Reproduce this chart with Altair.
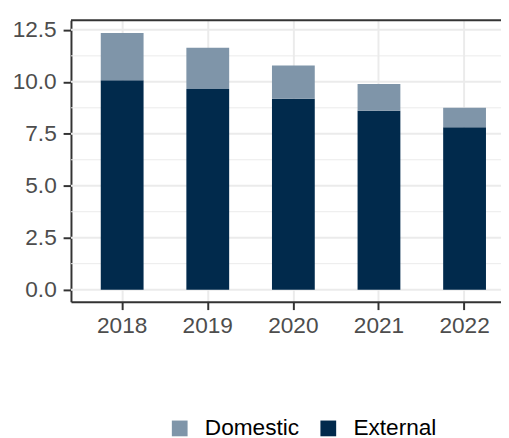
import altair as alt
import pandas as pd

years = ["2018", "2019", "2020", "2021", "2022"]
external = [10.08, 9.65, 9.18, 8.61, 7.81]
domestic = [2.27, 1.99, 1.61, 1.28, 0.94]
series = ["Domestic", "External"]
colors = ["#7F95A9", "#012A4C"]
y_ticks = [0, 2.5, 5, 7.5, 10, 12.5]
y_minor = [1.25, 3.75, 6.25, 8.75, 11.25]

rows = []
for i, yr in enumerate(years):
    rows.append({"year": yr, "series": "External", "value": external[i], "ord": 0})
    rows.append({"year": yr, "series": "Domestic", "value": domestic[i], "ord": 1})
df = pd.DataFrame(rows)

FONT = "Liberation Sans"
yscale = alt.Scale(domain=[-0.58, 12.96], nice=False, zero=False)
xscale = alt.Scale(paddingInner=0.5, paddingOuter=0.348)
yaxis = alt.Axis(title=None, values=y_ticks, format=".1f", grid=False,
                 tickSize=8, tickWidth=2, tickColor="#333333",
                 domainColor="#333333", domainWidth=2,
                 labelFont=FONT, labelFontSize=23, labelColor="#4D4D4D",
                 labelPadding=7)

major = alt.Chart(pd.DataFrame({"v": y_ticks})).mark_rule(
    color="#EBEBEB", strokeWidth=2
).encode(
    y=alt.Y("v:Q", scale=yscale, axis=yaxis),
)
minor = alt.Chart(pd.DataFrame({"v": y_minor})).mark_rule(
    color="#EBEBEB", strokeWidth=1
).encode(
    y=alt.Y("v:Q", scale=yscale, axis=yaxis),
)

bars = alt.Chart(df).mark_bar().encode(
    x=alt.X("year:N", scale=xscale, sort=years,
            axis=alt.Axis(title=None, labelAngle=0, grid=True, gridColor="#EBEBEB",
                          gridWidth=2, bandPosition=0.5, tickSize=8, tickWidth=2,
                          tickColor="#333333", domainColor="#333333", domainWidth=2,
                          labelFont=FONT, labelFontSize=23, labelColor="#4D4D4D",
                          labelPadding=5)),
    y=alt.Y("value:Q", stack="zero", scale=yscale, axis=yaxis),
    color=alt.Color("series:N", scale=alt.Scale(domain=series, range=colors),
                    legend=alt.Legend(title=None, orient="none", legendX=99, legendY=403,
                                      direction="horizontal", symbolType="square",
                                      symbolSize=256, symbolStrokeWidth=0,
                                      labelFont=FONT, labelFontSize=23,
                                      labelColor="black", columnPadding=18,
                                      labelOffset=14, padding=0)),
    order=alt.Order("ord:Q"),
)

border = alt.Chart(pd.DataFrame({"a": [0]})).mark_rule(
    color="#333333", strokeWidth=2
).encode(y=alt.value(0), x=alt.value(0), x2=alt.value(452))

chart = alt.layer(major, minor, bars, border).properties(
    width=452, height=286,
    autosize=alt.AutoSizeParams(type="none"),
    padding={"left": 64, "top": 9, "right": -15, "bottom": 135},
).configure_view(strokeWidth=0)

chart.save("out.html", embed_options={"renderer": "svg", "actions": False})
